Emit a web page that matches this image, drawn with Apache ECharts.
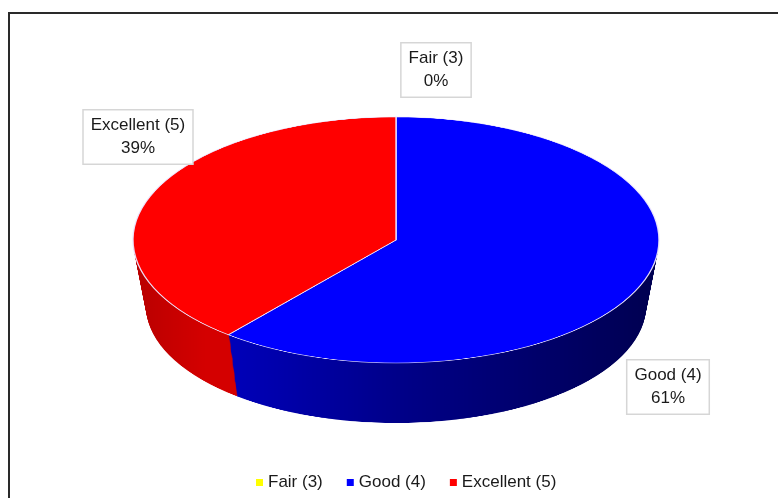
<!DOCTYPE html>
<html>
<head>
<meta charset="utf-8">
<script src="https://cdn.jsdelivr.net/npm/echarts@6/dist/echarts.min.js"></script>
<style>
  html, body { margin: 0; padding: 0; background: #fff; overflow: hidden; }
  #wrap { position: absolute; left: 0; top: 0; width: 778px; height: 498px; overflow: hidden; }
  #pie { position: absolute; left: 0; top: 0; width: 778px; transform-origin: 0 0; }
  #overlay { position: absolute; left: 0; top: 0; width: 778px; height: 498px; }
</style>
</head>
<body>
<div id="wrap">
  <div id="pie"></div>
  <div id="overlay"></div>
</div>
<script>
// ---- data ----
var categories = ['Fair (3)', 'Good (4)', 'Excellent (5)'];
var values = [0, 61, 39];

// ---- styles ----
var faceColors = ['#FFFF00', '#0000FF', '#FF0000'];
var FONT = "'Liberation Sans', Arial, sans-serif";

// ellipse geometry (screen px)
var CX = 396, CY = 240, A = 263, B = 123;
var DEPTH = 66, SHRINK = 13;
var S = B / A;

var pieDiv = document.getElementById('pie');
var preH = Math.ceil(498 / S);
pieDiv.style.height = preH + 'px';
pieDiv.style.transform = 'scaleY(' + S + ')';

function sideColor(i) {
  if (i === 1) {
    return { type: 'linear', x: 200, y: 0, x2: 650, y2: 0, global: true,
      colorStops: [{ offset: 0, color: '#0000C2' }, { offset: 0.45, color: '#000088' }, { offset: 1, color: '#000052' }] };
  }
  if (i === 2) {
    return { type: 'linear', x: 133, y: 0, x2: 205, y2: 0, global: true,
      colorStops: [{ offset: 0, color: '#B80000' }, { offset: 1, color: '#D40000' }] };
  }
  return '#CCCC00';
}

var series = [];
for (var d = DEPTH; d >= 0; d -= 1) {
  var t = d / DEPTH;
  var isTop = d === 0;
  series.push({
    type: 'pie',
    silent: true,
    animation: false,
    startAngle: 90,
    clockwise: true,
    center: [CX, (CY + d) / S],
    radius: A - SHRINK * t,
    label: { show: false },
    labelLine: { show: false },
    z: 2,
    zlevel: 0,
    data: categories.map(function (c, i) {
      return {
        name: c,
        value: values[i],
        itemStyle: isTop ? {
          color: faceColors[i],
          borderColor: 'rgba(236,230,255,0.95)',
          borderWidth: 1.4
        } : { color: sideColor(i), borderWidth: 0 }
      };
    })
  });
}

var pieChart = echarts.init(pieDiv, null, { renderer: 'canvas' });
pieChart.setOption({ animation: false, series: series });

// ---- overlay: labels, legend, frame ----
var labelPos = [[436, 70], [668, 387], [138, 137]];

var overlay = echarts.init(document.getElementById('overlay'), null, { renderer: 'canvas' });
overlay.setOption({
  animation: false,
  color: faceColors,
  graphic: [{
    type: 'rect',
    shape: { x: 9, y: 13, width: 820, height: 520 },
    style: { fill: 'none', stroke: '#2a2a2a', lineWidth: 2 },
    silent: true
  }],
  legend: {
    data: categories,
    left: 251,
    top: 469,
    icon: 'rect',
    itemWidth: 7,
    itemHeight: 7,
    itemGap: 24,
    textStyle: { fontFamily: FONT, fontSize: 17, color: '#1a1a1a' }
  },
  series: [{
    type: 'pie',
    startAngle: 90,
    center: [CX, CY],
    radius: 0,
    silent: true,
    data: categories.map(function (c, i) { return { name: c, value: values[i] }; }),
    label: {
      show: true,
      formatter: '{b}\n{d}%',
      fontFamily: FONT,
      fontSize: 17,
      lineHeight: 23,
      color: '#1a1a1a',
      align: 'center',
      backgroundColor: '#ffffff',
      borderColor: '#d6d6d6',
      borderWidth: 1.5,
      padding: [4, 7, 3, 7]
    },
    labelLine: { show: false },
    labelLayout: function (p) {
      var pos = labelPos[p.dataIndex];
      return { x: pos[0], y: pos[1], align: 'center', verticalAlign: 'middle', hideOverlap: false, moveOverlap: false };
    }
  }]
});
</script>
</body>
</html>
